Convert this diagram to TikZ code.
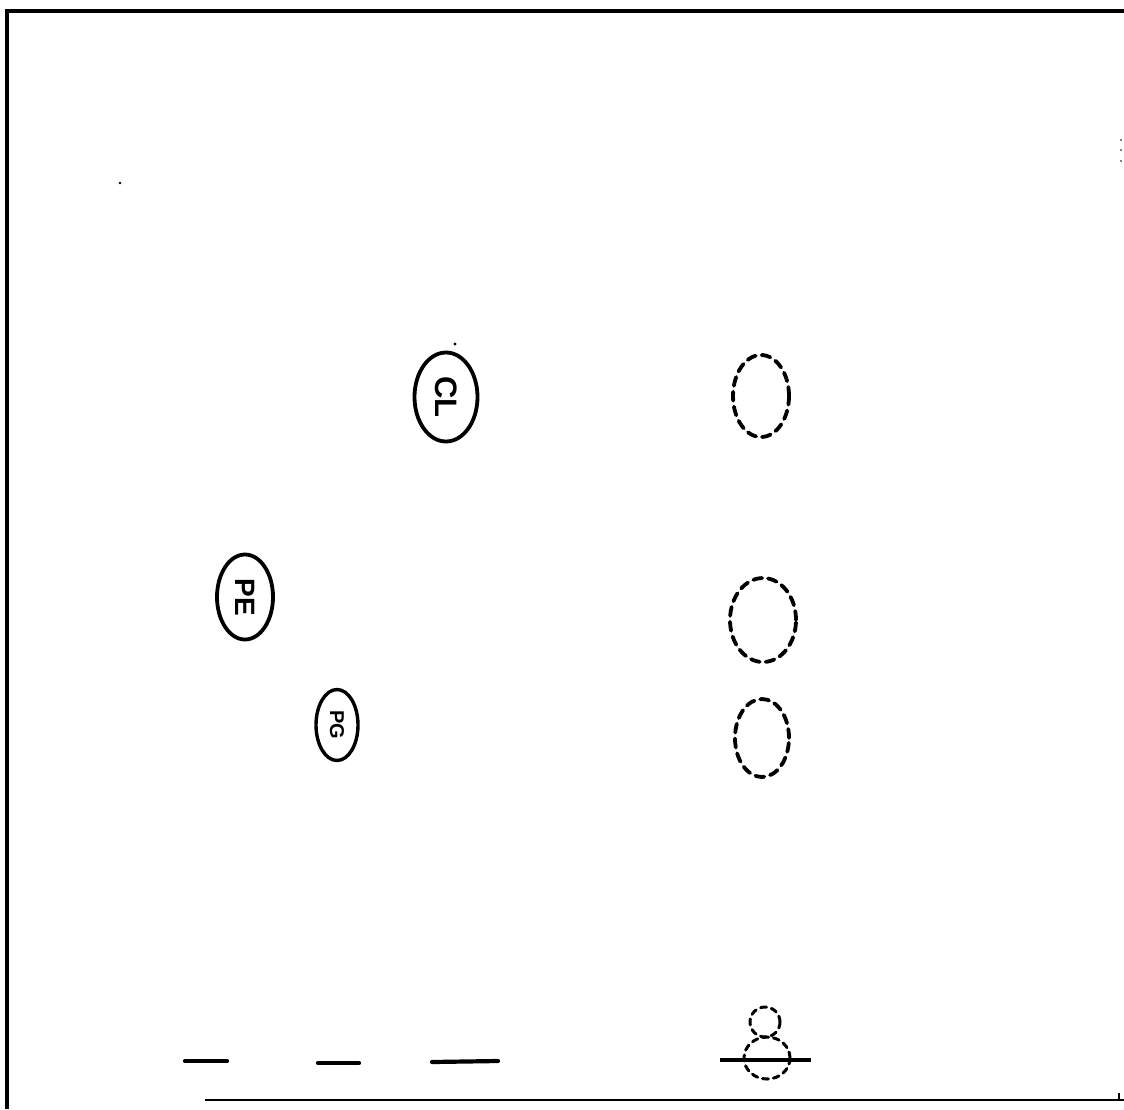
\documentclass[tikz,border=0pt]{standalone}
\usepackage{fontspec}
\setsansfont{Liberation Sans}
\usetikzlibrary{shapes.geometric}
\begin{document}
\begin{tikzpicture}[x=1pt,y=-1pt,
  frame/.style={line width=3.8pt},
  spot/.style={ellipse, draw, line width=3.8pt, inner sep=0pt, rotate=-90},
  ghost/.style={ellipse, draw, line width=3.8pt, dash pattern=on 9pt off 6pt, line cap=round, inner sep=0pt},
  baseline mark/.style={line width=4.2pt, line cap=round}]
\useasboundingbox (0,0) rectangle (1124,1109);
\fill[white] (0,0) rectangle (1124,1109);
% frame
\draw[frame] (1124,11) -- (7,11) -- (7,1109);
\draw[line width=2.4pt] (205,1100) -- (1124,1100);
\draw[line width=2pt] (1119,1093) -- (1119,1100);
% specks
\fill (120,183) circle (1.4pt);
\fill (455,344) circle (1.6pt);
\fill (1121,140) circle (0.9pt);
\fill (1121,150) circle (0.9pt);
\fill (1121,161) circle (0.9pt);
% solid spots
\node[spot, minimum width=89pt, minimum height=63pt, font=\sffamily\bfseries\fontsize{31}{31}\selectfont] (CL) at (446,397) {CL};
\node[spot, minimum width=85pt, minimum height=56pt, font=\sffamily\bfseries\fontsize{28}{28}\selectfont] (PE) at (245,597) {PE};
\node[spot, line width=3.4pt, minimum width=71pt, minimum height=42pt, font=\sffamily\bfseries\fontsize{20}{20}\selectfont] (PG) at (337,725) {PG};
% dashed spots
\node[ghost, minimum width=56pt, minimum height=82pt] (g1) at (761,396) {};
\node[ghost, minimum width=66pt, minimum height=84pt] (g2) at (763,620) {};
\node[ghost, minimum width=54pt, minimum height=78pt] (g3) at (762,738) {};
\node[ghost, line width=3pt, dash pattern=on 6pt off 5pt, minimum width=30pt, minimum height=30pt] (g4) at (765,1022) {};
\node[ghost, line width=3pt, dash pattern=on 6pt off 5pt, minimum width=46pt, minimum height=42pt] (g5) at (767,1058) {};
% origin marks
\coordinate (o1a) at (185,1061); \coordinate (o1b) at (227,1061);
\coordinate (o2a) at (318,1063); \coordinate (o2b) at (359,1063);
\coordinate (o3a) at (432,1062); \coordinate (o3b) at (498,1061);
\coordinate (o4a) at (720,1060); \coordinate (o4b) at (811,1060);
\draw[baseline mark] (o1a) -- (o1b);
\draw[baseline mark] (o2a) -- (o2b);
\draw[baseline mark] (o3a) -- (o3b);
\draw[line width=3.2pt] (o4a) -- (o4b);
\end{tikzpicture}
\end{document}
